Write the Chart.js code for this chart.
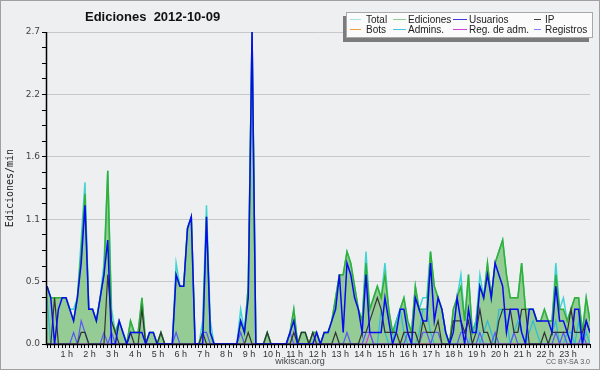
<!DOCTYPE html>
<html>
<head>
<meta charset="utf-8">
<script src="https://cdn.jsdelivr.net/npm/chart.js@4.4.1/dist/chart.umd.min.js"></script>
<style>
  html, body { margin: 0; padding: 0; background: #eeeff1; }
  #wrap { position: relative; width: 600px; height: 370px; }
</style>
</head>
<body>
<div id="wrap"><canvas id="chart" width="600" height="370"></canvas></div>
<script>
// hour labels on the x axis (one tick every 10 minutes, 6 per hour)
const hourLabels = ['0 h','1 h','2 h','3 h','4 h','5 h','6 h','7 h','8 h','9 h','10 h','11 h',
                    '12 h','13 h','14 h','15 h','16 h','17 h','18 h','19 h','20 h','21 h','22 h','23 h'];
const yTickLabels = ['0.0', '0.5', '1.1', '1.6', '2.2', '2.7'];
const yMax = 2.7;

// edits per minute, 10-minute slots, one line per hour
const totalSeries = [
  0.5,0.4,0.4,0.4,0.4,0.4,  0.3,0.3,0.4,0.9,1.4,0.3,  0.3,0.2,0.4,0.7,1.5,0.3,
  0.1,0.2,0.1,0,0.2,0.1,    0.1,0.4,0,0.1,0.1,0,    0.1,0,0,0,0.7,0.5,
  0.5,1.0,1.1,0,0,0.2,      1.2,0.2,0,0,0,0,        0,0,0,0.3,0.1,0.5,
  2.7,0,0,0,0.1,0,          0,0,0,0,0.1,0.3,        0,0.1,0.1,0,0.1,0.1,
  0,0.1,0.1,0.2,0.4,0.6,    0.6,0.8,0.7,0.5,0.3,0.2, 0.8,0.3,0.4,0.5,0.4,0.7,
  0.3,0.1,0.2,0.3,0.4,0.2,  0.1,0.5,0.3,0.4,0.4,0.8, 0.5,0.4,0.3,0.1,0,0.3,
  0.4,0.6,0.2,0.6,0.1,0.2,  0.6,0.4,0.7,0.4,0.7,0.8, 0.9,0.6,0.4,0.4,0.4,0.7,
  0.3,0.3,0.3,0.2,0.2,0.3,  0.2,0.2,0.7,0.3,0.4,0.2, 0.3,0.4,0.4,0.1,0.4,0.2
];
const edicionesSeries = [
  0.5,0.4,0.4,0.4,0.4,0.4,  0.3,0.2,0.4,0.8,1.3,0.3,  0.3,0.2,0.4,0.6,1.5,0.2,
  0.1,0.2,0.1,0,0.2,0.1,    0.1,0.4,0,0.1,0.1,0,    0.1,0,0,0,0.6,0.5,
  0.5,1.0,1.1,0,0,0.1,      1.1,0.1,0,0,0,0,        0,0,0,0.2,0.1,0.5,
  2.7,0,0,0,0.1,0,          0,0,0,0,0.1,0.3,        0,0.1,0.1,0,0.1,0.1,
  0,0.1,0.1,0.2,0.4,0.6,    0.6,0.8,0.7,0.5,0.3,0.2, 0.7,0.3,0.4,0.5,0.4,0.6,
  0.3,0.1,0.2,0.3,0.4,0.2,  0.1,0.5,0.3,0.3,0.3,0.8, 0.5,0.4,0.3,0.1,0,0.3,
  0.4,0.5,0.2,0.6,0.1,0.2,  0.5,0.4,0.7,0.4,0.7,0.8, 0.9,0.6,0.4,0.4,0.4,0.7,
  0.3,0.3,0.3,0.2,0.2,0.3,  0.2,0.2,0.6,0.3,0.3,0.2, 0.3,0.4,0.4,0.1,0.4,0.2
];
const usuariosSeries = [
  0.5,0.4,0,0.3,0.4,0.4,    0.3,0.2,0.4,0.7,1.2,0.3,  0.3,0.2,0.4,0.6,0.9,0,
  0,0.2,0.1,0,0.1,0.1,      0.1,0.1,0,0.1,0.1,0,    0,0,0,0,0.6,0.5,
  0.5,1.0,1.1,0,0,0,        1.1,0.1,0,0,0,0,        0,0,0,0.2,0.1,0.4,
  2.7,0,0,0,0,0,            0,0,0,0,0.1,0.2,        0,0,0,0,0,0.1,
  0,0.1,0.1,0.2,0.3,0.6,    0.1,0.7,0.6,0.4,0.3,0.1, 0.6,0.1,0.1,0.1,0.1,0.4,
  0.2,0,0.1,0.3,0.3,0.1,    0,0.4,0.3,0.2,0.2,0.7,  0.2,0.4,0.3,0.1,0,0.1,
  0.4,0.2,0,0.3,0.1,0.1,    0.5,0.4,0.6,0.4,0.7,0.6, 0.5,0.1,0.3,0.3,0.3,0.1,
  0,0.3,0.3,0.2,0.2,0.2,    0.2,0.1,0.5,0.2,0.2,0.1, 0,0.3,0.3,0,0.2,0.1
];
const ipSeries = [
  0,0,0.4,0,0,0,            0,0,0,0.1,0.1,0,        0,0,0,0,0.6,0.2,
  0.1,0,0,0,0.1,0,          0,0.3,0,0,0,0,          0.1,0,0,0,0,0,
  0,0,0,0,0,0.1,            0,0,0,0,0,0,            0,0,0,0,0,0.1,
  0,0,0,0,0.1,0,            0,0,0,0,0,0.1,          0,0.1,0.1,0,0.1,0,
  0,0,0,0,0.1,0,            0,0,0,0,0,0.1,          0.1,0.2,0.3,0.4,0.3,0.1,
  0.1,0.1,0.1,0,0.1,0.1,    0.1,0.1,0,0.2,0.1,0.1,  0.1,0.2,0,0,0,0.2,
  0.2,0.2,0.1,0.2,0,0.1,    0.3,0.1,0.1,0,0,0.2,    0.3,0.3,0.3,0.1,0.1,0.3,
  0.3,0,0,0,0,0.1,          0,0.1,0.1,0.1,0.1,0.1,  0.3,0.1,0.1,0.1,0.2,0.1
];
const botsSeries = [
  0,0,0,0,0,0, 0,0,0,0,0,0, 0,0,0,0,0,0, 0,0,0,0,0,0, 0,0,0,0,0,0, 0,0,0,0,0,0,
  0,0,0,0,0,0, 0,0,0,0,0,0, 0,0,0,0,0,0, 0,0,0,0,0,0, 0,0,0,0,0,0, 0,0,0,0,0,0,
  0,0,0,0,0,0, 0,0,0,0,0,0, 0,0,0,0,0,0, 0,0,0,0,0,0, 0,0,0,0,0,0, 0,0,0,0,0,0,
  0,0,0,0,0,0, 0,0,0,0,0,0, 0,0,0,0,0,0, 0,0,0,0,0,0, 0,0,0,0,0,0, 0,0,0,0,0,0
];
const adminsSeries = [
  0.4,0,0,0,0,0, 0,0,0,0,0,0, 0,0,0,0,0,0, 0,0,0,0,0,0, 0,0,0,0,0,0, 0,0,0,0,0,0,
  0,0,0,0,0,0, 0,0,0,0,0,0, 0,0,0,0,0,0, 0,0,0,0,0,0, 0,0,0,0,0,0, 0,0,0,0,0,0,
  0,0,0,0,0,0, 0,0,0,0,0,0, 0,0,0,0,0.3,0.1, 0,0,0.2,0.3,0.1,0, 0,0,0.1,0.3,0.3,0.1, 0,0,0,0,0,0,
  0,0,0,0,0.1,0.2, 0,0.1,0.2,0.1,0,0.3, 0.3,0.2,0,0.1,0.2,0.1, 0,0.1,0.2,0.1,0,0, 0,0.1,0.2,0,0,0.1, 0.1,0,0.2,0,0.1,0
];
const regAdmSeries = [
  0,0,0,0,0,0, 0,0,0,0,0,0, 0,0,0,0,0,0, 0,0,0,0,0,0, 0,0,0,0,0,0, 0,0,0,0,0,0,
  0,0,0,0,0,0, 0,0,0,0,0,0, 0,0,0,0,0,0, 0,0,0,0,0,0, 0,0,0,0,0,0, 0,0,0,0,0,0,
  0,0,0,0,0,0, 0,0,0,0,0,0, 0,0.1,0,0,0,0, 0,0,0,0,0,0, 0,0,0,0,0,0, 0,0,0,0,0,0,
  0,0,0,0,0,0, 0,0,0,0,0,0, 0,0,0,0,0,0, 0,0,0,0,0,0, 0,0,0,0,0,0, 0,0,0,0,0,0
];
const registrosSeries = [
  0,0,0,0,0,0,      0,0.1,0,0.2,0.1,0,  0,0,0,0.1,0,0.1,  0,0,0,0,0,0,  0,0,0,0,0,0,  0,0,0,0,0.1,0,
  0,0,0,0,0,0.1,    0.1,0,0,0,0,0,      0,0,0,0.1,0,0,    0,0,0,0,0,0,  0,0,0,0,0.1,0, 0,0,0,0,0,0,
  0,0,0,0,0,0,      0,0.1,0,0,0,0,      0.1,0.1,0,0,0,0,  0,0,0,0,0,0.1, 0,0,0,0.1,0.1,0, 0.1,0.1,0,0,0,0,
  0,0.1,0.1,0,0,0,  0.1,0,0,0,0.1,0,    0,0,0,0.1,0,0,    0,0,0,0,0,0,  0,0,0.1,0,0.1,0, 0,0,0,0.1,0,0
];

// legend: [label, colour] in reading order (2 rows x 4 columns)
const legendRows = [
  [['Total', '#a8e2dc'], ['Ediciones', '#8fd08f'], ['Usuarios', '#3a3ae0'], ['IP', '#404040']],
  [['Bots', '#f0a040'], ['Admins.', '#40c8e0'], ['Reg. de adm.', '#d040e0'], ['Registros', '#8080f0']]
];

const slots = totalSeries.map((v, i) => i);

function line(label, data, color, width, order, extra) {
  return Object.assign({
    label: label, data: data, borderColor: color, borderWidth: width,
    pointRadius: 0, tension: 0, fill: false, order: order, clip: 0
  }, extra || {});
}

const framePlugin = {
  id: 'frame',
  beforeDraw(chart) {
    const ctx = chart.ctx;
    ctx.save();
    ctx.fillStyle = '#eeeff1';
    ctx.fillRect(0, 0, chart.width, chart.height);
    ctx.restore();
  },
  afterDatasetsDraw(chart) {
    const ctx = chart.ctx, a = chart.chartArea;
    ctx.save();
    ctx.strokeStyle = '#000';
    ctx.lineWidth = 1.5;
    ctx.beginPath();
    ctx.moveTo(a.left - 0.5, a.top);
    ctx.lineTo(a.left - 0.5, a.bottom + 0.5);
    ctx.lineTo(a.right, a.bottom + 0.5);
    ctx.stroke();
    ctx.restore();
  },
  afterDraw(chart) {
    const ctx = chart.ctx;
    ctx.save();
    // title
    ctx.fillStyle = '#111';
    ctx.font = 'bold 13px "Liberation Sans"';
    ctx.textAlign = 'left';
    ctx.textBaseline = 'alphabetic';
    ctx.fillText('Ediciones  2012-10-09', 85, 21);
    // y title
    ctx.save();
    ctx.translate(10, 188);
    ctx.rotate(-Math.PI / 2);
    ctx.font = '10px "DejaVu Sans Mono"';
    ctx.fillStyle = '#222';
    ctx.textAlign = 'center';
    ctx.textBaseline = 'middle';
    ctx.fillText('Ediciones/min', 0, 0);
    ctx.restore();
    // footer
    ctx.fillStyle = '#444';
    ctx.font = '9px "Liberation Sans"';
    ctx.textAlign = 'center';
    ctx.fillText('wikiscan.org', 300, 364);
    ctx.fillStyle = '#555';
    ctx.font = '7px "Liberation Sans"';
    ctx.textAlign = 'right';
    ctx.fillText('CC BY-SA 3.0', 590, 364);
    // legend box with shadow
    ctx.fillStyle = '#7c7c7c';
    ctx.fillRect(343, 16, 246, 26);
    ctx.fillStyle = '#fbfbfb';
    ctx.fillRect(346, 12, 247, 26);
    ctx.strokeStyle = '#a8a8a8';
    ctx.lineWidth = 1;
    ctx.strokeRect(346.5, 12.5, 246, 25);
    const swStart = [350, 393, 453, 534];
    const swEnd = [361, 406, 467, 541];
    const txtX = [366, 408, 469, 545];
    ctx.font = '10px "Liberation Sans"';
    ctx.textAlign = 'left';
    legendRows.forEach((row, r) => {
      const y = 19.5 + r * 10;
      row.forEach((item, c) => {
        ctx.strokeStyle = item[1];
        ctx.lineWidth = 1;
        ctx.beginPath();
        ctx.moveTo(swStart[c], y);
        ctx.lineTo(swEnd[c], y);
        ctx.stroke();
        ctx.fillStyle = '#222';
        ctx.fillText(item[0], txtX[c], 22.5 + r * 10);
      });
    });
    // outer border
    ctx.strokeStyle = '#a0a0a0';
    ctx.strokeRect(0.5, 0.5, chart.width - 1, chart.height - 1);
    ctx.restore();
  }
};

new Chart(document.getElementById('chart'), {
  type: 'line',
  data: {
    labels: slots,
    datasets: [
      line('Total', totalSeries, '#3fd4d4', 1.5, 11),
      line('Ediciones', edicionesSeries, '#33b033', 1.5, 10,
           { fill: 'origin', backgroundColor: 'rgba(60,170,60,0.5)' }),
      line('Bots', botsSeries, '#f0a040', 1, 9),
      line('Admins.', adminsSeries, '#2cbcd8', 1.2, 6),
      line('Reg. de adm.', regAdmSeries, '#d040e0', 1.2, 5),
      line('Registros', registrosSeries, '#5a5af2', 1.2, 4),
      line('IP', ipSeries, '#333333', 1.2, 3),
      line('Usuarios', usuariosSeries, '#0a0af0', 1.5, 1)
    ]
  },
  options: {
    responsive: false,
    animation: false,
    events: [],
    layout: { padding: { top: 32, right: 10, left: 0, bottom: 0 } },
    plugins: { legend: { display: false }, title: { display: false }, tooltip: { enabled: false } },
    scales: {
      x: {
        type: 'category',
        offset: false,
        afterFit: s => { s.height = 26; },
        border: { display: false },
        grid: { drawOnChartArea: false, drawTicks: true, tickLength: 4, color: '#000' },
        ticks: {
          autoSkip: false, maxRotation: 0, minRotation: 0, padding: 1, labelOffset: -3,
          color: '#333', font: { family: 'Liberation Sans', size: 9 },
          callback: (v, i) => (i > 0 && i % 6 === 0) ? hourLabels[i / 6] : ''
        }
      },
      y: {
        min: 0, max: yMax,
        afterFit: s => { s.width = 47; },
        afterBuildTicks: s => {
          s.ticks = yTickLabels.flatMap((t, k) => k === 0 ? [0] : [1, 2, 3, 4].map(j => (k - 1 + j / 4) * yMax / 5))
                               .map(v => ({ value: v }));
        },
        border: { display: false },
        grid: {
          drawTicks: true, tickLength: 5, tickColor: '#000',
          color: c => (c.index % 4 === 0 && c.index > 0) ? '#c8c8c8' : 'rgba(0,0,0,0)'
        },
        ticks: {
          padding: 2, color: '#444', font: { family: 'DejaVu Sans', size: 9 },
          callback: (v, i) => i % 4 === 0 ? yTickLabels[i / 4] : ''
        }
      }
    }
  },
  plugins: [framePlugin]
});
</script>
</body>
</html>
